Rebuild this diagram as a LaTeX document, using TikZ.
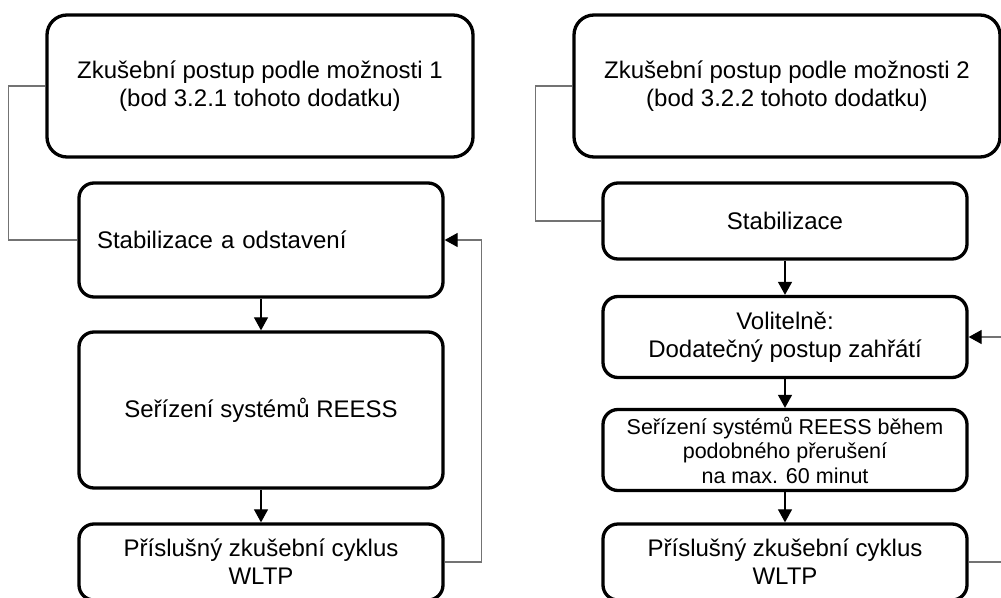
\documentclass[tikz,border=0pt]{standalone}
\usepackage{fontspec}
\setmainfont{Liberation Sans}
\usetikzlibrary{arrows.meta}

\begin{document}
\begin{tikzpicture}[x=1pt, y=-1pt, >={Triangle[width=14pt,length=13pt]},
    box/.style={draw, line width=3.3pt, rounded corners=15pt, fill=white,
        align=center, inner sep=0pt, minimum width=364pt,
        font=\fontsize{24}{28}\selectfont},
    link/.style={draw=black!55, line width=1.3pt},
    flow/.style={->, line width=1.2pt}]
    \useasboundingbox (0,0) rectangle (1001,597);
    \clip (0,0) rectangle (1001,597);

    % option 1
    \node[box, rounded corners=20pt, minimum width=426pt, minimum height=142pt] (opt1) at (260,86)
        {Zkušební postup podle možnosti 1\\(bod 3.2.1 tohoto dodatku)};
    \node[box, minimum height=114pt, text width=328pt, align=left] (stab1) at (261,240)
        {Stabilizace a odstavení};
    \node[box, minimum height=156pt] (adjust1) at (261,410) {Seřízení systémů REESS};
    \node[box, minimum height=76pt] (cycle1) at (261,562)
        {Příslušný zkušební cyklus\\WLTP};

    \draw[link] (opt1.west) -- ++(-37,0) |- (stab1.west);
    \draw[flow] (stab1.south) -- (adjust1.north);
    \draw[flow] (adjust1.south) -- (cycle1.north);
    % back to stabilization
    \draw[link, -{Triangle[width=14pt,length=13pt,color=black]}]
        (cycle1.east) -- ++(37,0) |- (stab1.east);

    % option 2
    \node[box, rounded corners=20pt, minimum width=426pt, minimum height=142pt] (opt2) at (787,86)
        {Zkušební postup podle možnosti 2\\(bod 3.2.2 tohoto dodatku)};
    \node[box, minimum height=76pt] (stab2) at (785,221) {Stabilizace};
    \node[box, minimum height=81pt] (warm2) at (785,337)
        {Volitelně:\\Dodatečný postup zahřátí};
    \node[box, minimum height=81pt, font=\fontsize{21.5}{24.5}\selectfont] (adjust2) at (785,450)
        {Seřízení systémů REESS během\\podobného přerušení\\na max. 60 minut};
    \node[box, minimum height=76pt] (cycle2) at (785,562)
        {Příslušný zkušební cyklus\\WLTP};

    \draw[link] (opt2.west) -- ++(-37,0) |- (stab2.west);
    \draw[flow] (stab2.south) -- (warm2.north);
    \draw[flow] (warm2.south) -- (adjust2.north);
    \draw[flow] (adjust2.south) -- (cycle2.north);
    % back to warm-up
    \draw[link, -{Triangle[width=14pt,length=13pt,color=black]}]
        (cycle2.east) -- ++(37,0) |- (warm2.east);
\end{tikzpicture}
\end{document}
